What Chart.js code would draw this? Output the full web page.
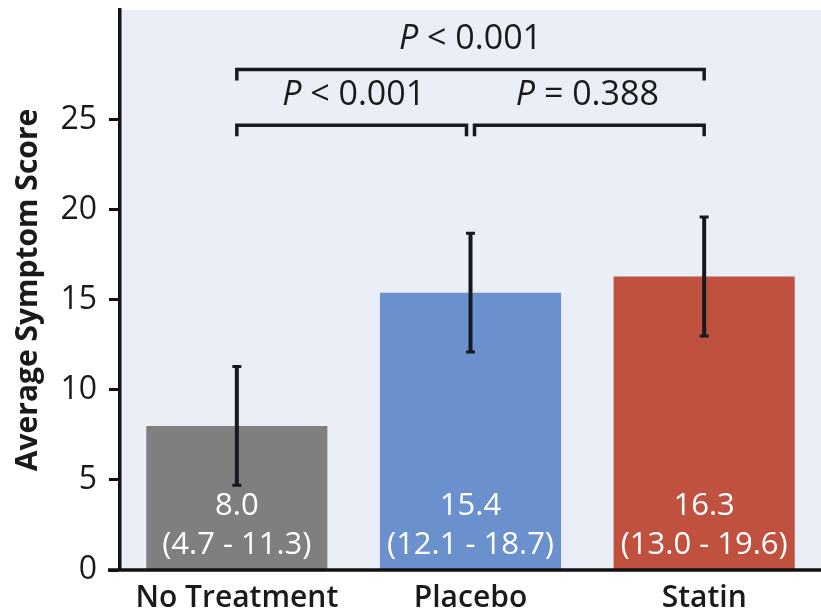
<!DOCTYPE html>
<html>
<head>
<meta charset="utf-8">
<script src="https://cdn.jsdelivr.net/npm/chart.js@4"></script>
<style>
  html, body { margin: 0; padding: 0; background: #ffffff; }
  #wrap { width: 821px; height: 615px; }
</style>
</head>
<body>
<div id="wrap"><canvas id="c" width="821" height="615"></canvas></div>
<script>
// ---- data ----
const categories = ['No Treatment', 'Placebo', 'Statin'];
const means = [8.0, 15.4, 16.3];
const ciLow = [4.7, 12.1, 13.0];
const ciHigh = [11.3, 18.7, 19.6];
const barColors = ['#7f7f7f', '#6a91cd', '#c1513f'];
const yTicks = [0, 5, 10, 15, 20, 25];
const yTitle = 'Average Symptom Score';
// significance brackets: pairs of category indices, label parts, bracket level (score units)
const bracketPairs = [[0, 1], [1, 2], [0, 2]];
const bracketRel = ['<', '=', '<'];
const bracketP = ['0.001', '0.388', '0.001'];
const bracketLevels = [24.7, 24.7, 27.8];

const FONT = '"Open Sans", "Noto Sans", "DejaVu Sans", sans-serif';
const INK = '#16191f';

const bgPlugin = {
  id: 'bg',
  beforeDraw(chart) {
    const { ctx, chartArea: a } = chart;
    ctx.save();
    ctx.fillStyle = '#e9eef7';
    ctx.fillRect(a.left, a.top, a.right - a.left, a.bottom - a.top);
    ctx.restore();
  }
};

const overlayPlugin = {
  id: 'overlay',
  afterDraw(chart) {
    const { ctx, chartArea: a } = chart;
    const y = chart.scales.y;
    const meta = chart.getDatasetMeta(0);
    ctx.save();
    // x baseline extending under the y ticks
    ctx.strokeStyle = '#111';
    ctx.lineWidth = 3.5;
    ctx.beginPath();
    ctx.moveTo(a.left - 12, a.bottom);
    ctx.lineTo(chart.width, a.bottom);
    ctx.stroke();

    // error bars
    ctx.strokeStyle = INK;
    meta.data.forEach((bar, i) => {
      const x = bar.x;
      const yl = y.getPixelForValue(ciLow[i]);
      const yh = y.getPixelForValue(ciHigh[i]);
      ctx.lineWidth = 4;
      ctx.beginPath();
      ctx.moveTo(x, yl); ctx.lineTo(x, yh);
      ctx.stroke();
      ctx.lineWidth = 3;
      ctx.beginPath();
      ctx.moveTo(x - 4.5, yl); ctx.lineTo(x + 4.5, yl);
      ctx.moveTo(x - 4.5, yh); ctx.lineTo(x + 4.5, yh);
      ctx.stroke();
    });

    // bar value labels
    ctx.fillStyle = '#ffffff';
    ctx.textAlign = 'center';
    ctx.textBaseline = 'middle';
    ctx.font = '500 31px ' + FONT;
    meta.data.forEach((bar, i) => {
      ctx.fillText(means[i].toFixed(1), bar.x, a.bottom - 64);
      ctx.fillText('(' + ciLow[i].toFixed(1) + ' - ' + ciHigh[i].toFixed(1) + ')', bar.x, a.bottom - 25);
    });

    // brackets
    ctx.strokeStyle = INK;
    ctx.lineWidth = 3.5;
    ctx.lineCap = 'butt';
    bracketPairs.forEach((p, k) => {
      let x1 = meta.data[p[0]].x;
      let x2 = meta.data[p[1]].x;
      // split adjacent brackets that share a bar
      if (k === 0) x2 -= 4;
      if (k === 1) x1 += 4;
      const yb = y.getPixelForValue(bracketLevels[k]);
      ctx.beginPath();
      ctx.moveTo(x1, yb + 11);
      ctx.lineTo(x1, yb);
      ctx.lineTo(x2, yb);
      ctx.lineTo(x2, yb + 11);
      ctx.stroke();
      // label
      const italic = 'italic 500 34px ' + FONT;
      const normal = '500 34px ' + FONT;
      const rest = ' ' + bracketRel[k] + ' ' + bracketP[k];
      ctx.font = italic;
      const wP = ctx.measureText('P').width;
      ctx.font = normal;
      const wR = ctx.measureText(rest).width;
      const cx = (meta.data[bracketPairs[k][0]].x + meta.data[bracketPairs[k][1]].x) / 2;
      const x0 = cx - (wP + wR) / 2;
      const ty = yb - 30;
      ctx.fillStyle = '#1a1a1a';
      ctx.textAlign = 'left';
      ctx.textBaseline = 'middle';
      ctx.font = italic;
      ctx.fillText('P', x0, ty);
      ctx.font = normal;
      ctx.fillText(rest, x0 + wP, ty);
    });
    ctx.restore();
  }
};

new Chart(document.getElementById('c'), {
  type: 'bar',
  data: {
    labels: categories,
    datasets: [{
      data: means,
      backgroundColor: barColors,
      borderWidth: 0,
      barPercentage: 0.775,
      categoryPercentage: 1
    }]
  },
  options: {
    responsive: false,
    animation: false,
    layout: { padding: { top: 10, right: 0, left: 0, bottom: 0 } },
    plugins: { legend: { display: false }, tooltip: { enabled: false } },
    scales: {
      x: {
        grid: { display: false, drawTicks: false },
        border: { display: false },
        ticks: {
          color: '#1a1a1a',
          padding: 10,
          font: { family: FONT, size: 30, weight: '600' }
        },
        afterFit(s) { s.height = 45; s.paddingLeft = 0; s.paddingRight = 0; }
      },
      y: {
        min: 0,
        max: 31.1,
        grid: { drawOnChartArea: false, drawTicks: true, tickLength: 11, tickWidth: 3, tickColor: '#111' },
        border: { display: true, color: '#111', width: 3.5 },
        afterBuildTicks(s) { s.ticks = yTicks.map(v => ({ value: v })); },
        ticks: {
          color: '#1a1a1a',
          padding: 12,
          font: { family: FONT, size: 32, weight: '500' },
          callback: v => String(v)
        },
        title: {
          display: true,
          text: yTitle,
          color: '#1a1a1a',
          padding: { top: 10, bottom: 0 },
          font: { family: FONT, size: 30, weight: 'bold' }
        },
        afterFit(s) { s.width = 120; s.paddingTop = 0; s.paddingBottom = 0; }
      }
    }
  },
  plugins: [bgPlugin, overlayPlugin]
});
</script>
</body>
</html>
